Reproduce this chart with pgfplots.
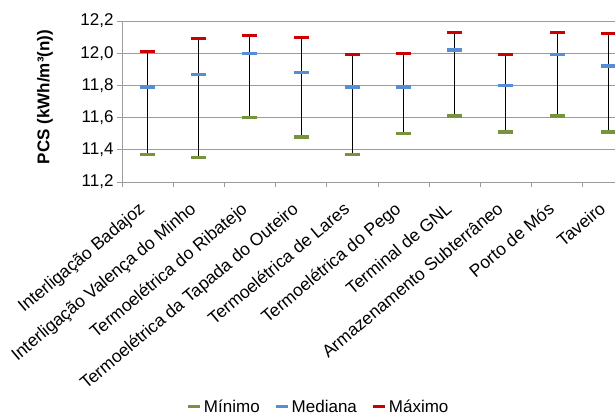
\documentclass[border=0pt]{standalone}
\usepackage{pgfplots}
\pgfplotsset{compat=1.18}
\usepackage{fontspec}
\setmainfont{Liberation Sans}
\definecolor{cmin}{RGB}{119,147,60}
\definecolor{cmed}{RGB}{85,142,213}
\definecolor{cmax}{RGB}{204,0,0}
\definecolor{axgray}{RGB}{155,155,155}
\newcommand\lbl{\fontsize{17bp}{20bp}\selectfont}
\newcommand\xlbl{\fontsize{17.5bp}{20bp}\selectfont}
\begin{document}
\begin{tikzpicture}
\useasboundingbox (-122bp,-232bp) rectangle (493bp,182bp);
\begin{axis}[
  at={(0,0)}, anchor=south west,
  scale only axis, width=493bp, height=161bp,
  xmin=-0.5, xmax=9.13, ymin=11.2, ymax=12.2,
  axis x line*=bottom, axis y line*=left,
  axis line style={axgray, line width=0.9bp},
  ymajorgrids, grid style={axgray, line width=0.9bp},
  tick align=outside, major tick length=5bp, minor tick length=5bp,
  tick style={axgray, line width=0.9bp},
  major x tick style={draw=none},
  xtick={0,...,9},
  minor xtick={-0.5,0.5,...,9.5},
  xticklabels={Interligação Badajoz, Interligação Valença do Minho, Termoelétrica do Ribatejo, Termoelétrica da Tapada do Outeiro, Termoelétrica de Lares, Termoelétrica do Pego, Terminal de GNL, Armazenamento Subterrâneo, Porto de Mós, Taveiro},
  xticklabel style={font=\xlbl, inner sep=0pt, xshift=-10bp, yshift=-14bp, rotate=40, anchor=north east},
  ytick={11.2,11.4,11.6,11.8,12.0,12.2},
  yticklabel style={font=\lbl, /pgf/number format/.cd, fixed, fixed zerofill, precision=1, use comma, assume math mode=true},
  ylabel={PCS (kWh/m³(n))},
  ylabel style={font=\lbl\bfseries, at={(axis description cs:-0.156,0.528)}, anchor=center},
  legend columns=3,
  legend style={draw=none, fill=none, font=\lbl, at={(axis description cs:0.399,-1.395)}, anchor=center,
    nodes={inner sep=2bp}, /tikz/every even column/.append style={column sep=13bp}},
  legend image code/.code={\draw[#1, line width=3bp] (0bp,0bp) -- (12bp,0bp);},
]
\addplot[black, line width=1bp, forget plot, unbounded coords=jump] coordinates {
(0,11.37) (0,12.01) (0,nan)
(1,11.35) (1,12.09) (1,nan)
(2,11.60) (2,12.11) (2,nan)
(3,11.48) (3,12.10) (3,nan)
(4,11.37) (4,11.99) (4,nan)
(5,11.50) (5,12.00) (5,nan)
(6,11.61) (6,12.13) (6,nan)
(7,11.51) (7,11.99) (7,nan)
(8,11.61) (8,12.13) (8,nan)
(9,11.51) (9,12.12)
};
\addplot[cmin, only marks, mark=-, mark size=7.5bp, mark options={line width=3.2bp}] coordinates {
(0,11.37) (1,11.35) (2,11.60) (3,11.48) (4,11.37) (5,11.50) (6,11.61) (7,11.51) (8,11.61) (9,11.51)};
\addlegendentry{Mínimo}
\addplot[cmed, only marks, mark=-, mark size=7.5bp, mark options={line width=3.2bp}] coordinates {
(0,11.79) (1,11.87) (2,12.00) (3,11.88) (4,11.79) (5,11.79) (6,12.02) (7,11.80) (8,11.99) (9,11.92)};
\addlegendentry{Mediana}
\addplot[cmax, only marks, mark=-, mark size=7.5bp, mark options={line width=3.2bp}] coordinates {
(0,12.01) (1,12.09) (2,12.11) (3,12.10) (4,11.99) (5,12.00) (6,12.13) (7,11.99) (8,12.13) (9,12.12)};
\addlegendentry{Máximo}
\end{axis}
\end{tikzpicture}
\end{document}
